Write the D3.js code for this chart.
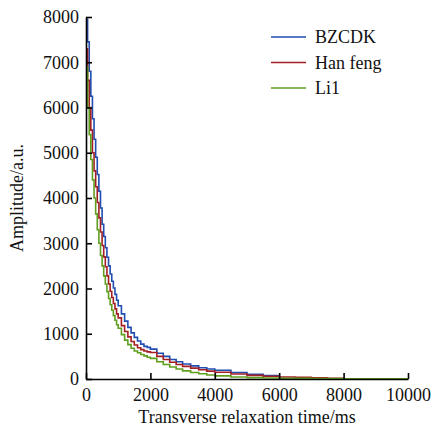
<!DOCTYPE html>
<html><head><meta charset="utf-8">
<script src="https://cdn.jsdelivr.net/npm/d3@7"></script>
<style>body{margin:0;background:#fff}svg{display:block}</style>
</head><body><svg id="c" width="433" height="432" font-family="Liberation Serif"></svg>
<script>
const FONT = "Liberation Serif, Times New Roman, serif";
const seriesNames = ["BZCDK","Han feng","Li1"];
const seriesColors = ["#1f4db0","#a31f24","#5f9e1e"];
const times = [0,50,100,150,200,250,300,350,400,450,500,550,600,650,700,750,800,850,900,950,1000,1100,1200,1300,1400,1500,1600,1700,1800,1900,2000,2200,2400,2600,2800,3000,3250,3500,3750,4000,4500,5000,5500,6000,6500,7000,7500,8000,8500,9000,9500,10000];
const bzcdk = [7950,7450,6800,6250,5750,5300,4900,4520,4150,3780,3420,3150,2900,2690,2500,2320,2160,2010,1870,1740,1620,1440,1280,1140,1020,920,840,770,720,700,660,570,500,430,380,330,290,250,220,195,145,105,75,50];
const hanfeng = [7300,6600,6000,5500,5000,4600,4250,3900,3560,3250,2950,2700,2480,2280,2100,1940,1800,1670,1550,1440,1350,1180,1050,930,830,750,690,650,620,600,585,500,430,370,320,280,240,205,175,150,110,80,60,45,35,25,18,10];
const li1 = [6900,6000,5400,4850,4400,4000,3650,3300,3000,2730,2500,2280,2100,1930,1780,1640,1520,1400,1300,1200,1120,980,860,760,680,620,580,540,510,480,455,380,320,265,220,180,145,115,90,70,45,30,22,18,14,10,8,6,5,4,3,3];
const seriesValues = [bzcdk, hanfeng, li1];
const xTicks = [0,2000,4000,6000,8000,10000];
const yTicks = [0,1000,2000,3000,4000,5000,6000,7000,8000];

const svg = d3.select("#c");
const x = d3.scaleLinear().domain([0,10000]).range([86,408]);
const y = d3.scaleLinear().domain([0,8000]).range([379,17]);

const line = d3.line().x(d=>x(d[0])).y(d=>y(d[1])).curve(d3.curveStepAfter);
seriesValues.forEach((vals,i)=>{
  const pts = vals.map((v,j)=>[times[j],v]);
  svg.append("path").attr("d",line(pts)).attr("fill","none")
    .attr("stroke",seriesColors[i]).attr("stroke-width",1.6);
});

function styleText(sel){
  sel.attr("font-family","Liberation Serif").style("font-family",FONT).attr("font-size",18).style("font-size","18px").attr("fill","#111");
}

const xa = svg.append("g").attr("transform","translate(0,379)")
  .call(d3.axisBottom(x).tickValues(xTicks).tickFormat(d3.format("d")).tickSizeInner(-6).tickSizeOuter(0).tickPadding(8));
const ya = svg.append("g").attr("transform","translate(86,0)")
  .call(d3.axisLeft(y).tickValues(yTicks).tickFormat(d3.format("d")).tickSizeInner(-6).tickSizeOuter(0).tickPadding(7));
[xa,ya].forEach(a=>{
  a.attr("font-family","Liberation Serif").attr("font-size",18);
  a.select(".domain").attr("stroke","#000").attr("stroke-width",1.6);
  a.selectAll(".tick line").attr("stroke","#000").attr("stroke-width",1.6);
  styleText(a.selectAll(".tick text"));
});
xa.selectAll(".tick text").attr("dy","0.75em");

styleText(svg.append("text").attr("x",247).attr("y",423).attr("text-anchor","middle").text("Transverse relaxation time/ms"));
styleText(svg.append("text").attr("transform","translate(23,198) rotate(-90)").attr("text-anchor","middle").text("Amplitude/a.u."));

const lg = svg.append("g");
seriesNames.forEach((n,i)=>{
  const yy = 37 + i*25.5;
  lg.append("line").attr("x1",271).attr("x2",306).attr("y1",yy).attr("y2",yy).attr("stroke",seriesColors[i]).attr("stroke-width",1.6);
  styleText(lg.append("text").attr("x",315).attr("y",yy+6).text(n));
});
</script></body></html>
